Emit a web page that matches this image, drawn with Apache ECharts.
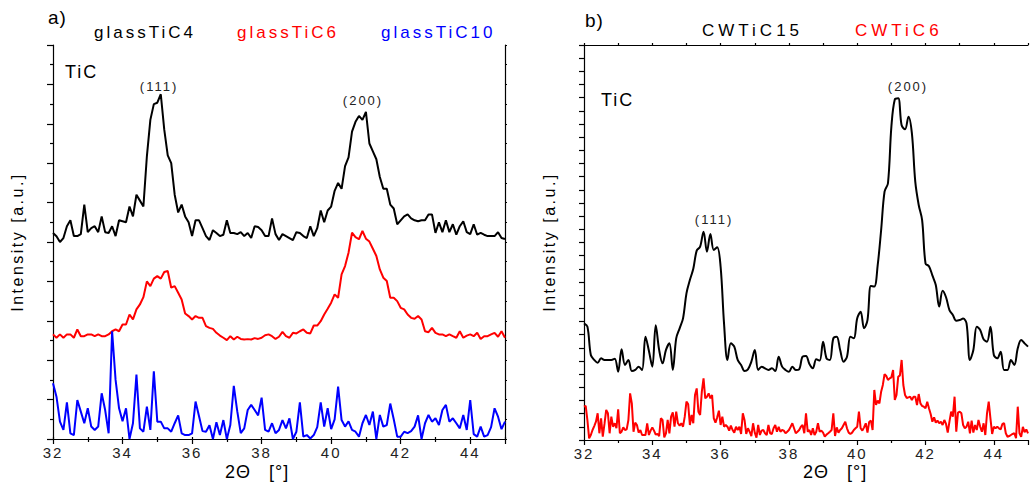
<!DOCTYPE html>
<html>
<head>
<meta charset="utf-8">
<script src="https://cdn.jsdelivr.net/npm/echarts@6/dist/echarts.min.js"></script>
<style>
html,body{margin:0;padding:0;background:#fff;}
#chart{width:1031px;height:482px;}
</style>
</head>
<body>
<div id="chart"></div>
<script>
// ---- data (2Theta in degrees, intensity in arbitrary units) ----
const thetaStart = 32;
const stepCoarse = 0.1;   // sampling of glassTiC4/6/10 and CWTiC15
const stepFine = 0.05;    // sampling of CWTiC6
const xTickLabels = [32, 34, 36, 38, 40, 42, 44];

const glassTiC4 = [
10.46,10.29,10.0,10.2,10.8,11.1,10.3,10.3,10.4,11.9,
10.5,10.7,10.8,10.5,11.3,10.5,10.46,10.8,10.3,11.1,
11.05,11.0,11.8,11.3,12.4,12.1,11.8,14.35,16.2,17.0,
17.07,17.5,15.7,14.4,14.0,12.4,11.5,11.9,11.3,11.0,
10.3,11.1,11.1,10.7,10.3,10.1,10.6,10.46,10.3,10.37,
11.1,10.46,10.46,10.4,10.5,10.3,10.46,10.2,10.8,10.76,
10.6,10.3,10.3,11.2,10.4,10.1,10.4,10.3,10.2,10.1,
10.5,10.46,10.3,10.2,10.8,10.3,10.7,11.6,11.0,11.6,
11.8,12.6,13.0,12.7,13.85,14.3,15.6,16.1,16.4,16.2,
16.6,15.0,14.6,14.2,13.3,12.7,12.7,11.9,11.7,10.9,
11.1,11.3,11.4,11.2,11.1,11.05,11.1,11.1,11.4,11.4,
10.46,11.0,10.5,11.1,10.5,10.9,10.37,10.8,11.05,10.5,
10.4,10.9,10.37,10.46,10.37,10.3,10.3,10.3,10.5,10.2,10.15
];
const glassTiC6 = [
5.31,5.14,5.31,5.14,5.31,5.31,5.14,5.56,5.22,5.22,
5.31,5.31,5.22,5.31,5.22,5.22,5.31,5.47,5.56,5.47,
5.81,5.81,6.32,6.07,6.58,6.83,7.2,8.0,7.76,8.14,
8.27,8.14,8.48,8.53,7.68,7.76,7.42,7.08,6.37,6.24,
6.07,6.24,6.15,6.15,5.73,5.64,5.59,5.39,5.25,5.14,
5.02,5.22,5.05,5.19,5.08,5.05,5.07,5.05,5.12,5.08,
5.14,5.27,5.31,5.22,5.08,5.19,5.44,5.22,5.14,5.39,
5.36,5.47,5.56,5.39,5.36,5.76,5.76,5.98,6.32,6.61,
6.92,7.34,7.17,8.36,8.78,9.46,10.47,10.25,10.14,10.56,
10.17,10.02,9.66,9.29,8.61,8.19,8.02,7.17,7.17,7.0,
6.66,6.58,6.32,6.15,6.1,6.24,6.07,5.47,5.42,5.64,
5.39,5.31,5.31,5.22,5.31,5.22,5.14,5.47,5.14,5.25,
5.31,5.22,5.39,5.08,5.22,5.22,5.31,5.39,5.19,5.47,5.14
];
const glassTiC10 = [
2.83,2.15,0.88,0.46,1.86,0.29,0.2,1.98,1.39,0.8,
1.56,0.63,0.46,0.63,2.32,1.47,0.29,5.47,3.0,1.56,
0.9,1.56,0.0,0.8,3.27,0.54,0.37,1.64,0.46,3.44,
0.88,0.88,0.54,0.54,0.37,0.8,1.2,0.29,0.2,0.2,
0.29,1.9,1.15,0.4,0.37,0.7,0.0,0.85,0.2,0.96,
0.0,0.71,2.7,1.4,0.3,0.54,1.47,1.73,1.47,1.2,
2.1,0.46,0.37,0.8,0.29,0.46,0.96,0.54,1.05,0.0,
0.37,1.86,0.12,0.2,0.03,0.2,0.6,1.86,0.63,1.56,
0.5,1.0,2.66,0.96,0.63,0.9,0.46,0.37,0.12,0.8,
1.22,0.71,1.39,0.0,1.22,0.63,0.71,1.8,1.0,0.12,
0.12,0.37,0.3,0.4,0.63,1.2,0.0,0.8,1.22,0.88,
1.05,0.71,1.47,1.73,0.88,1.05,0.8,0.54,1.22,0.46,
1.98,0.25,0.12,0.63,0.12,0.2,0.6,1.56,1.13,0.5,0.88
];
const CWTiC15 = [
8.86,8.61,6.46,6.08,5.87,6.2,6.08,6.08,6.08,6.18,
5.19,6.89,5.7,6.08,5.24,5.32,5.57,5.32,7.85,6.78,
5.57,8.71,6.84,5.82,6.84,7.34,5.32,7.72,8.48,9.24,
11.14,12.15,13.0,14.38,14.68,15.82,14.3,15.65,14.43,14.63,
13.16,8.86,6.08,7.34,7.09,6.08,5.7,5.24,5.37,5.95,
6.84,5.32,5.57,5.44,5.32,5.44,5.24,6.33,5.57,5.32,
5.19,5.57,5.32,5.37,6.33,6.38,5.77,5.44,6.13,6.03,
7.47,6.2,6.08,7.72,7.85,6.84,5.95,6.33,7.85,7.72,
9.24,9.75,8.48,9.11,11.7,11.65,13.3,15.95,18.86,19.5,
23.8,25.87,25.95,23.9,23.6,24.56,23.3,19.6,17.85,16.7,
13.4,13.2,12.5,11.77,10.13,11.34,10.84,9.87,9.49,9.06,
9.11,9.22,8.86,6.08,6.84,8.61,8.35,7.65,7.47,8.61,
6.46,6.2,6.71,5.32,5.32,6.08,5.7,6.96,7.59,7.34,7.09
];
const CWTiC6 = [
2.53,2.6,1.5,0.13,0.38,0.76,1.06,1.39,2.03,0.51,
1.65,0.25,1.22,2.28,2.03,0.51,1.77,1.01,1.27,0.89,
2.33,0.51,0.63,0.96,0.76,0.81,1.52,3.54,2.78,0.63,
1.32,1.14,0.56,0.76,0.38,0.38,0.38,1.27,0.38,0.71,
0.96,0.71,0.41,0.46,0.3,1.65,1.52,0.2,0.51,1.52,
0.51,1.77,2.1,1.01,2.15,1.27,1.09,1.27,1.01,1.77,
2.91,2.73,1.14,1.9,1.27,3.42,3.92,2.15,1.9,3.67,
4.68,3.16,3.29,3.54,3.16,3.42,1.65,1.32,1.72,2.23,
1.14,1.77,1.01,1.14,1.01,0.71,1.09,0.76,0.56,1.01,
0.76,1.01,0.46,2.03,1.52,0.46,0.89,0.63,0.3,1.27,
0.56,0.18,1.14,0.38,0.71,0.76,0.51,0.38,1.14,0.51,
0.46,0.89,1.14,0.63,1.01,0.63,0.76,0.71,0.51,0.63,
0.76,1.01,1.27,0.89,0.51,0.63,0.76,1.01,1.14,0.51,
2.03,0.63,0.76,0.38,0.89,0.38,0.63,1.27,0.63,0.71,
0.56,0.25,0.41,0.51,0.63,0.76,2.03,0.3,0.96,0.56,
0.76,0.89,1.14,1.39,0.89,0.56,0.46,0.56,0.76,0.89,
1.01,2.15,0.89,0.71,0.96,1.27,0.56,1.37,1.47,0.76,
3.8,2.66,2.99,2.78,3.67,4.18,5.01,4.86,4.56,4.68,
4.76,5.32,3.04,3.42,4.81,4.91,6.08,4.18,3.42,3.19,
3.24,3.29,3.04,3.29,3.29,2.66,3.49,2.78,2.58,2.53,
2.41,2.91,2.41,1.97,1.39,1.72,1.32,1.47,1.27,1.39,
1.14,1.52,1.22,0.56,1.39,2.15,1.77,3.29,0.63,2.08,
2.15,2.03,1.14,0.89,1.01,1.39,0.51,1.47,0.56,1.14,
0.76,1.52,1.01,0.63,1.27,0.38,2.03,2.91,1.65,0.46,
1.01,0.89,1.01,0.89,0.81,1.22,1.27,0.51,0.25,0.3,
0.38,0.46,0.51,0.13,2.53,0.51,0.25,1.0,0.6,0.8,0.5
];

function pairs(arr, step) {
  return arr.map((v, i) => [+(thetaStart + i * step).toFixed(3), v]);
}

const FONT = '"Liberation Sans", Arial, sans-serif';
const chart = echarts.init(document.getElementById('chart'), null, {renderer: 'svg'});

const axisLine = {show: true, lineStyle: {color: '#000', width: 1.2}};
function bottomX(grid) {
  return {
    type: 'value', gridIndex: grid, position: 'bottom', min: 32, max: 45, interval: 2,
    axisLine: axisLine,
    axisTick: {show: true, length: 5, lineStyle: {color: '#000', width: 1.2}},
    minorTick: {show: true, splitNumber: 2, length: 3, lineStyle: {color: '#000', width: 1.2}},
    splitLine: {show: false},
    axisLabel: {
      show: true, margin: 6, color: '#222', fontSize: 15, fontFamily: FONT, lineHeight: 15,
      formatter: v => xTickLabels.indexOf(v) >= 0 ? String(v) : ''
    }
  };
}
function topX(grid) {
  return {
    type: 'value', gridIndex: grid, position: 'top', min: 32, max: 45, interval: 1,
    axisLine: axisLine,
    axisTick: {show: true, length: 2, lineStyle: {color: '#000', width: 1.2}},
    splitLine: {show: false}, axisLabel: {show: false}
  };
}
function yAx(grid, pos, max, interval, len, minorLen) {
  return {
    type: 'value', gridIndex: grid, position: pos, min: 0, max: max, interval: interval,
    axisLine: axisLine,
    axisTick: {show: true, length: len, lineStyle: {color: '#000', width: 1.2}},
    minorTick: {show: minorLen > 0, splitNumber: 2, length: minorLen, lineStyle: {color: '#000', width: 1.2}},
    splitLine: {show: false}, axisLabel: {show: false}
  };
}
function line(name, data, step, color, xi, yi, smooth) {
  return {
    name: name, type: 'line', xAxisIndex: xi, yAxisIndex: yi,
    data: pairs(data, step), showSymbol: false, symbol: 'none', smooth: smooth || false,
    lineStyle: {color: color, width: 2}, itemStyle: {color: color},
    clip: true, animation: false, silent: true
  };
}
function txt(text, x, y, size, color, align, extra) {
  return Object.assign({
    type: 'text', x: x, y: y, silent: true,
    style: {text: text, fill: color, font: size + 'px ' + FONT, textAlign: align || 'left', textVerticalAlign: 'middle'}
  }, extra || {});
}

chart.setOption({
  animation: false,
  backgroundColor: '#fff',
  grid: [
    {left: 53, top: 45, width: 452, height: 394},
    {left: 584, top: 45, width: 453, height: 395}
  ],
  xAxis: [bottomX(0), topX(0), bottomX(1), topX(1)],
  yAxis: [
    yAx(0, 'left', 20, 2, 6, 3),
    yAx(0, 'right', 20, 1, 2, 0),
    yAx(1, 'left', 30, 1, 5, 0)
  ],
  series: [
    line('glassTiC4', glassTiC4, stepCoarse, '#000000', 0, 0),
    line('glassTiC6', glassTiC6, stepCoarse, '#ff0000', 0, 0),
    line('glassTiC10', glassTiC10, stepCoarse, '#0000ff', 0, 0),
    line('CWTiC6', CWTiC6, stepFine, '#ff0000', 2, 2),
    line('CWTiC15', CWTiC15, stepCoarse, '#000000', 2, 2, 0.35)
  ],
  graphic: [
    txt('a)', 48, 17, 19, '#000'),
    txt('glassTiC4', 94, 32, 17, '#000'),
    txt('glassTiC6', 237, 32, 17, '#ff0000'),
    txt('glassTiC10', 381, 32, 17, '#0000ff'),
    txt('b)', 585, 20, 19, '#000'),
    txt('CWTiC15', 702, 30, 17, '#000'),
    txt('CWTiC6', 855, 30, 17, '#ff0000'),
    txt('TiC', 65, 72, 18, '#000'),
    txt('TiC', 601, 100, 18, '#000'),
    txt('(111)', 159, 86, 13, '#222', 'center'),
    txt('(200)', 363, 100, 13, '#222', 'center'),
    txt('(200)', 908, 86, 13, '#222', 'center'),
    txt('(111)', 714, 219, 13, '#222', 'center'),
    txt('Intensity [a.u.]', 17, 242, 16, '#000', 'center', {rotation: Math.PI / 2}),
    txt('Intensity [a.u.]', 549, 242, 16, '#000', 'center', {rotation: Math.PI / 2}),
    txt('2\u0398\u00a0\u00a0\u00a0[\u00b0]', 225, 472, 18, '#000'),
    txt('2\u0398\u00a0\u00a0\u00a0[\u00b0]', 803, 472, 18, '#000')
  ]
});

// letter spacing to mimic the widely tracked original typography
function applySpacing() {
  const texts = document.querySelectorAll('#chart svg text');
  texts.forEach(t => {
    const s = t.textContent || '';
    let ls = null;
    if (/^\d+$/.test(s)) ls = '2px';
    else if (/^glass/.test(s)) ls = '3px';
    else if (/^CWTiC/.test(s)) ls = '4px';
    else if (s === 'TiC') ls = '2px';
    else if (/^\(\d+\)$/.test(s)) ls = '2px';
    else if (/^[ab]\)$/.test(s)) ls = '1px';
    else if (/^Intensity/.test(s)) ls = '2.5px';
    else if (/^2/.test(s)) ls = '1px';
    if (ls) t.setAttribute('letter-spacing', ls);
  });
}
chart.on('finished', applySpacing);
setTimeout(applySpacing, 0);
setTimeout(applySpacing, 200);
</script>
</body>
</html>
